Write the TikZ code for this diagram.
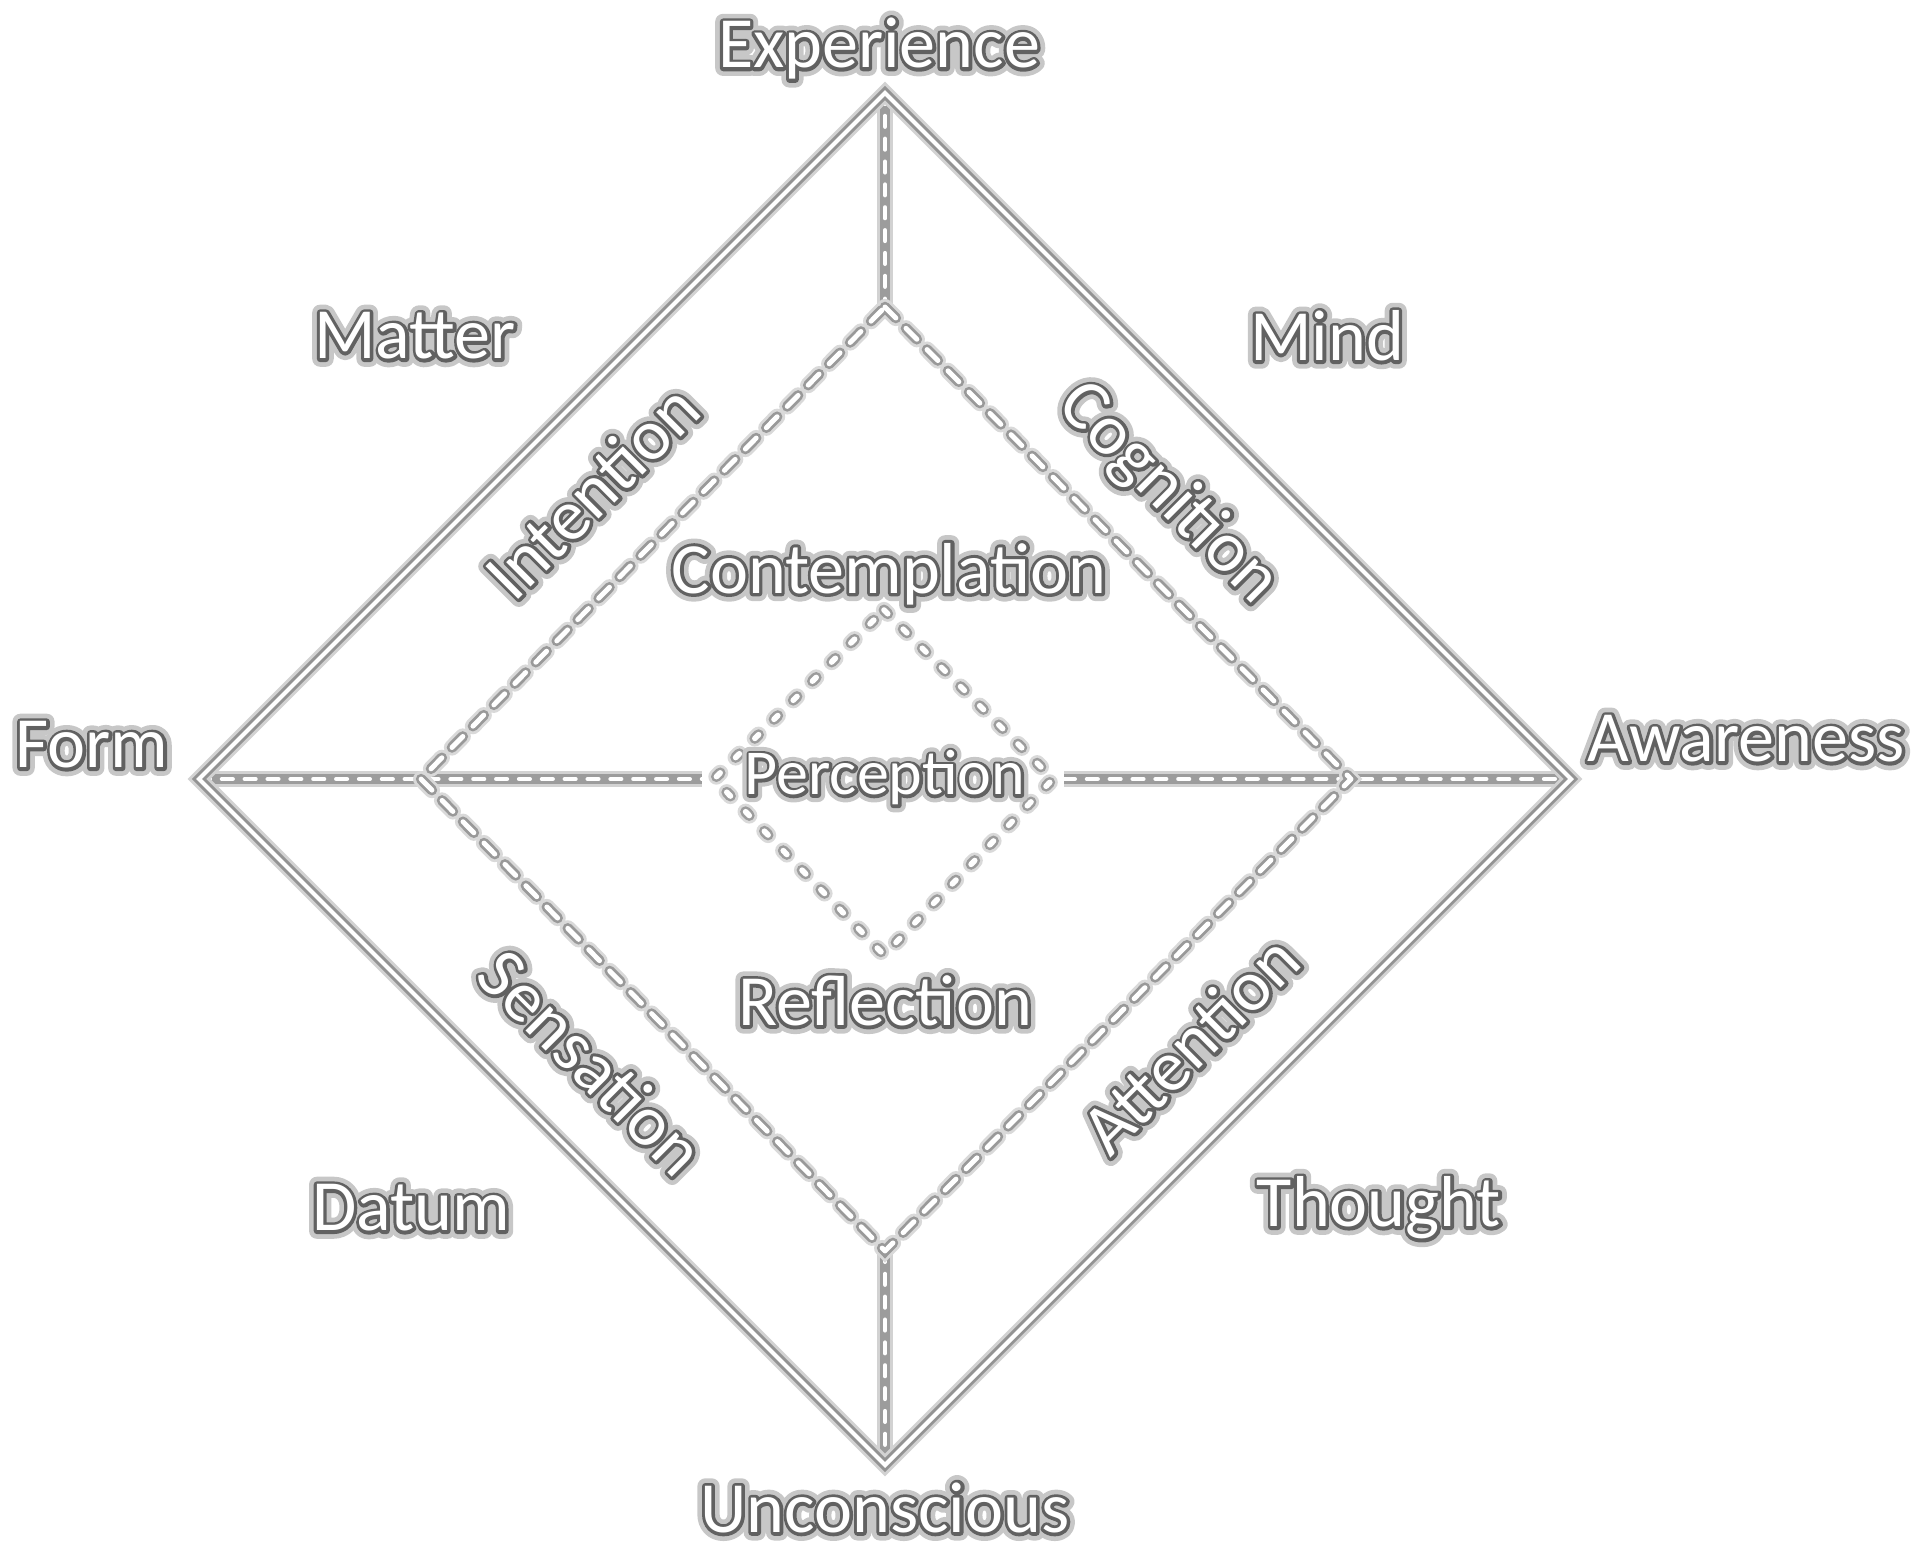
\documentclass[tikz,border=0pt]{standalone}
\usepackage{fontspec}
\setmainfont{Carlito}
\newfontfamily\haloout[RawFeature={embolden=22}]{Carlito}
\newfontfamily\haloin[RawFeature={embolden=9}]{Carlito}
\definecolor{glowout}{gray}{0.78}
\definecolor{glowin}{gray}{0.38}
\newcommand\glowtext[1]{%
  \leavevmode
  \rlap{\textcolor{glowout}{\haloout #1}}%
  \rlap{\textcolor{glowin}{\haloin #1}}%
  \textcolor{white}{#1}}
\begin{document}
\begin{tikzpicture}[x=0.01cm,y=-0.01cm,
  lbl/.style={font=\fontsize{20.5}{24}\selectfont, inner sep=0pt, line join=round},
  smalllbl/.style={font=\fontsize{18.2}{22}\selectfont, inner sep=0pt, line join=round},
  solidline/.style={draw=white,line width=1.2pt,line join=miter,
     preaction={draw=gray!35,line width=4.6pt},
     preaction={draw=gray!85,line width=2.9pt}},
  axisline/.style={draw=white,line width=1.2pt,line cap=round,dash pattern=on 3.1pt off 3.4pt,
     preaction={draw=gray!35,line width=4.4pt,solid,line cap=butt},
     preaction={draw=gray!78,line width=2.9pt,solid,line cap=butt}},
  midline/.style={draw=white,line width=1.4pt,line cap=round,line join=round,dash pattern=on 4.4pt off 4.1pt,
     preaction={draw=gray!65,line width=0.7pt,solid},
     preaction={draw=gray!30,line width=4.6pt,line cap=round,dash pattern=on 4.4pt off 4.1pt},
     preaction={draw=gray!80,line width=3.0pt,line cap=round,dash pattern=on 4.4pt off 4.1pt}},
  dotline/.style={draw=white,line width=1.6pt,line cap=round,line join=round,dash pattern=on 1.5pt off 6.2pt,
     preaction={draw=gray!30,line width=4.6pt,line cap=round,dash pattern=on 1.5pt off 6.2pt},
     preaction={draw=gray!78,line width=3.1pt,line cap=round,dash pattern=on 1.5pt off 6.2pt}}
]
\useasboundingbox (0,0) rectangle (1914,1548);
% vertices
\coordinate (OT) at (885,93);
\coordinate (OL) at (199,779);
\coordinate (OR) at (1571,779);
\coordinate (OB) at (885,1465);
\coordinate (MT) at (885,307);
\coordinate (ML) at (421,779);
\coordinate (MR) at (1351,779);
\coordinate (MB) at (885,1251);
\coordinate (IT) at (884,610);
\coordinate (IL) at (714,779);
\coordinate (IR) at (1053,779);
\coordinate (IB) at (884,955);
\coordinate (HL) at (702,779);
\coordinate (HR) at (1064,779);
% lines
\draw[axisline] (OT) -- (MT);
\draw[axisline] (MB) -- (OB);
\draw[axisline] (OL) -- (HL);
\draw[axisline] (HR) -- (OR);
\draw[solidline] (OT) -- (OR) -- (OB) -- (OL) -- cycle;
\draw[midline] (MT) -- (MR) -- (MB) -- (ML) -- cycle;
\draw[dotline] (IT) -- (IR) -- (IB) -- (IL) -- cycle;
% labels
\node[lbl] (experience) at (879,49) {\glowtext{Experience}};
\node[lbl] (matter) at (415,336) {\glowtext{Matter}};
\node[lbl] (mind) at (1327,336) {\glowtext{Mind}};
\node[lbl] (form) at (92,745) {\glowtext{Form}};
\node[lbl] (awareness) at (1746,739) {\glowtext{Awareness}};
\node[lbl] (contemplation) at (889,574) {\glowtext{Contemplation}};
\node[smalllbl] (perception) at (885,778) {\glowtext{Perception}};
\node[lbl] (reflection) at (885,1001) {\glowtext{Reflection}};
\node[lbl] (datum) at (411,1208) {\glowtext{Datum}};
\node[lbl] (thought) at (1379,1208) {\glowtext{Thought}};
\node[lbl] (unconscious) at (885,1508) {\glowtext{Unconscious}};
\node[lbl,rotate=45] (intention) at (592,491) {\glowtext{Intention}};
\node[lbl,rotate=-45] (cognition) at (1168,494) {\glowtext{Cognition}};
\node[lbl,rotate=-45] (sensation) at (592,1062) {\glowtext{Sensation}};
\node[lbl,rotate=45] (attention) at (1190,1044) {\glowtext{Attention}};
\end{tikzpicture}
\end{document}
